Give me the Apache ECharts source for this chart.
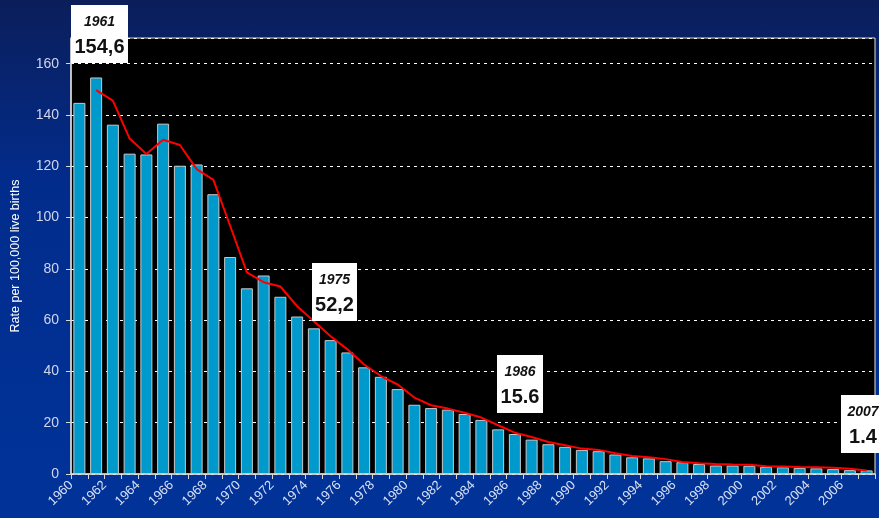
<!DOCTYPE html>
<html>
<head>
<meta charset="utf-8">
<script src="https://cdn.jsdelivr.net/npm/echarts@6/dist/echarts.min.js"></script>
<style>
  html, body { margin: 0; padding: 0; }
  #chart {
    width: 879px;
    height: 518px;
    background: linear-gradient(180deg, #0b1e5a 0%, #022c8c 35%, #003399 100%);
  }
</style>
</head>
<body>
<div id="chart"></div>
<script>
// years 1960..2007
const years = [
  "1960","1961","1962","1963","1964","1965","1966","1967","1968","1969",
  "1970","1971","1972","1973","1974","1975","1976","1977","1978","1979",
  "1980","1981","1982","1983","1984","1985","1986","1987","1988","1989",
  "1990","1991","1992","1993","1994","1995","1996","1997","1998","1999",
  "2000","2001","2002","2003","2004","2005","2006","2007"
];

// rate per 100,000 live births
const rates = [
  144.7, 154.6, 136.2, 124.9, 124.6, 136.6, 120.2, 120.7, 109.1, 84.6,
  72.4, 77.4, 69.1, 61.4, 56.8, 52.2, 47.4, 41.6, 37.9, 33.1,
  27.0, 25.7, 25.1, 23.4, 21.1, 17.4, 15.6, 13.4, 11.6, 10.6,
  9.4, 8.9, 7.6, 6.5, 6.1, 5.0, 4.6, 3.9, 3.3, 3.3,
  3.2, 2.8, 2.6, 2.4, 2.2, 1.9, 1.5, 1.4
];

// red trend line (smoothed), none for 1960
const trend = [
  null, 149.7, 145.6, 130.8, 124.8, 130.3, 128.3, 118.9, 114.7, 96.8,
  78.6, 74.8, 73.1, 65.4, 59.6, 53.7, 48.6, 42.7, 38.2, 34.9,
  29.8, 26.8, 25.5, 23.9, 22.0, 19.0, 16.1, 14.4, 12.5, 11.2,
  9.9, 9.4, 8.1, 7.0, 6.5, 5.8, 4.7, 4.2, 3.9, 3.7,
  3.6, 3.0, 2.9, 2.7, 2.6, 2.4, 2.0, 1.4
];

// highlighted values: [year, value text, box x, box y, box w]
const callouts = [
  ["1961", "154,6", 71, 5, 57],
  ["1975", "52,2", 312, 263, 45],
  ["1986", "15.6", 497, 355, 46],
  ["2007", "1.4", 841, 395, 44]
];

const chart = echarts.init(document.getElementById("chart"));

const calloutGraphics = [];
callouts.forEach(([yr, val, x, y, w]) => {
  const cx = yr === "2007" ? 863 : x + w / 2;
  calloutGraphics.push({
    type: "rect", z: 100,
    shape: { x: x, y: y, width: w, height: 58 },
    style: { fill: "#fff" }
  });
  calloutGraphics.push({
    type: "text", z: 101,
    style: {
      x: cx, y: y + 17, text: yr, align: "center", verticalAlign: "middle",
      font: "italic bold 14px 'Liberation Sans', Arial, sans-serif", fill: "#111"
    }
  });
  calloutGraphics.push({
    type: "text", z: 101,
    style: {
      x: cx, y: y + 42, text: val, align: "center", verticalAlign: "middle",
      font: "bold 20px 'Liberation Sans', Arial, sans-serif", fill: "#111"
    }
  });
});

chart.setOption({
  backgroundColor: "transparent",
  animation: false,
  textStyle: { fontFamily: "'Liberation Sans', Arial, sans-serif" },
  grid: {
    left: 71, right: 4, top: 38, bottom: 44,
    show: true, backgroundColor: "#000", borderColor: "#e0e0e0", borderWidth: 1
  },
  xAxis: [
    {
      type: "category",
      data: years,
      axisLine: { lineStyle: { color: "#d8d8d8", width: 1.5 } },
      axisTick: { show: true, interval: 0, length: 5, lineStyle: { color: "#d8d8d8" } },
      axisLabel: { show: false }
    },
    {
      type: "value",
      position: "bottom",
      min: 1960, max: 2008, interval: 1,
      axisLine: { show: false },
      axisTick: { show: false },
      splitLine: { show: false },
      axisLabel: {
        rotate: 45, margin: 9, color: "#d8e0f4", fontSize: 13,
        showMaxLabel: false,
        formatter: v => (v % 2 === 0 && v < 2008 ? String(v) : "")
      }
    }
  ],
  yAxis: {
    type: "value",
    min: 0, max: 170, interval: 20,
    name: "Rate per 100,000 live births",
    nameLocation: "middle",
    nameGap: 49,
    nameTextStyle: { color: "#ffffff", fontSize: 12.5 },
    axisLine: { show: true, lineStyle: { color: "#d8d8d8", width: 1.5 } },
    axisTick: { show: true, length: 5, lineStyle: { color: "#d8d8d8" } },
    axisLabel: { color: "#cfd6ec", fontSize: 14, margin: 12, showMaxLabel: false },
    splitLine: { lineStyle: { color: "#ffffff", type: [3, 4], width: 1 } }
  },
  series: [
    {
      type: "bar",
      data: rates,
      barWidth: 12,
      itemStyle: { color: "#0099cc", borderColor: "#c8c8c8", borderWidth: 1 }
    },
    {
      type: "line",
      data: trend,
      showSymbol: false,
      connectNulls: false,
      lineStyle: { color: "#ff0000", width: 2 },
      z: 5
    }
  ],
  graphic: calloutGraphics
});
</script>
</body>
</html>
